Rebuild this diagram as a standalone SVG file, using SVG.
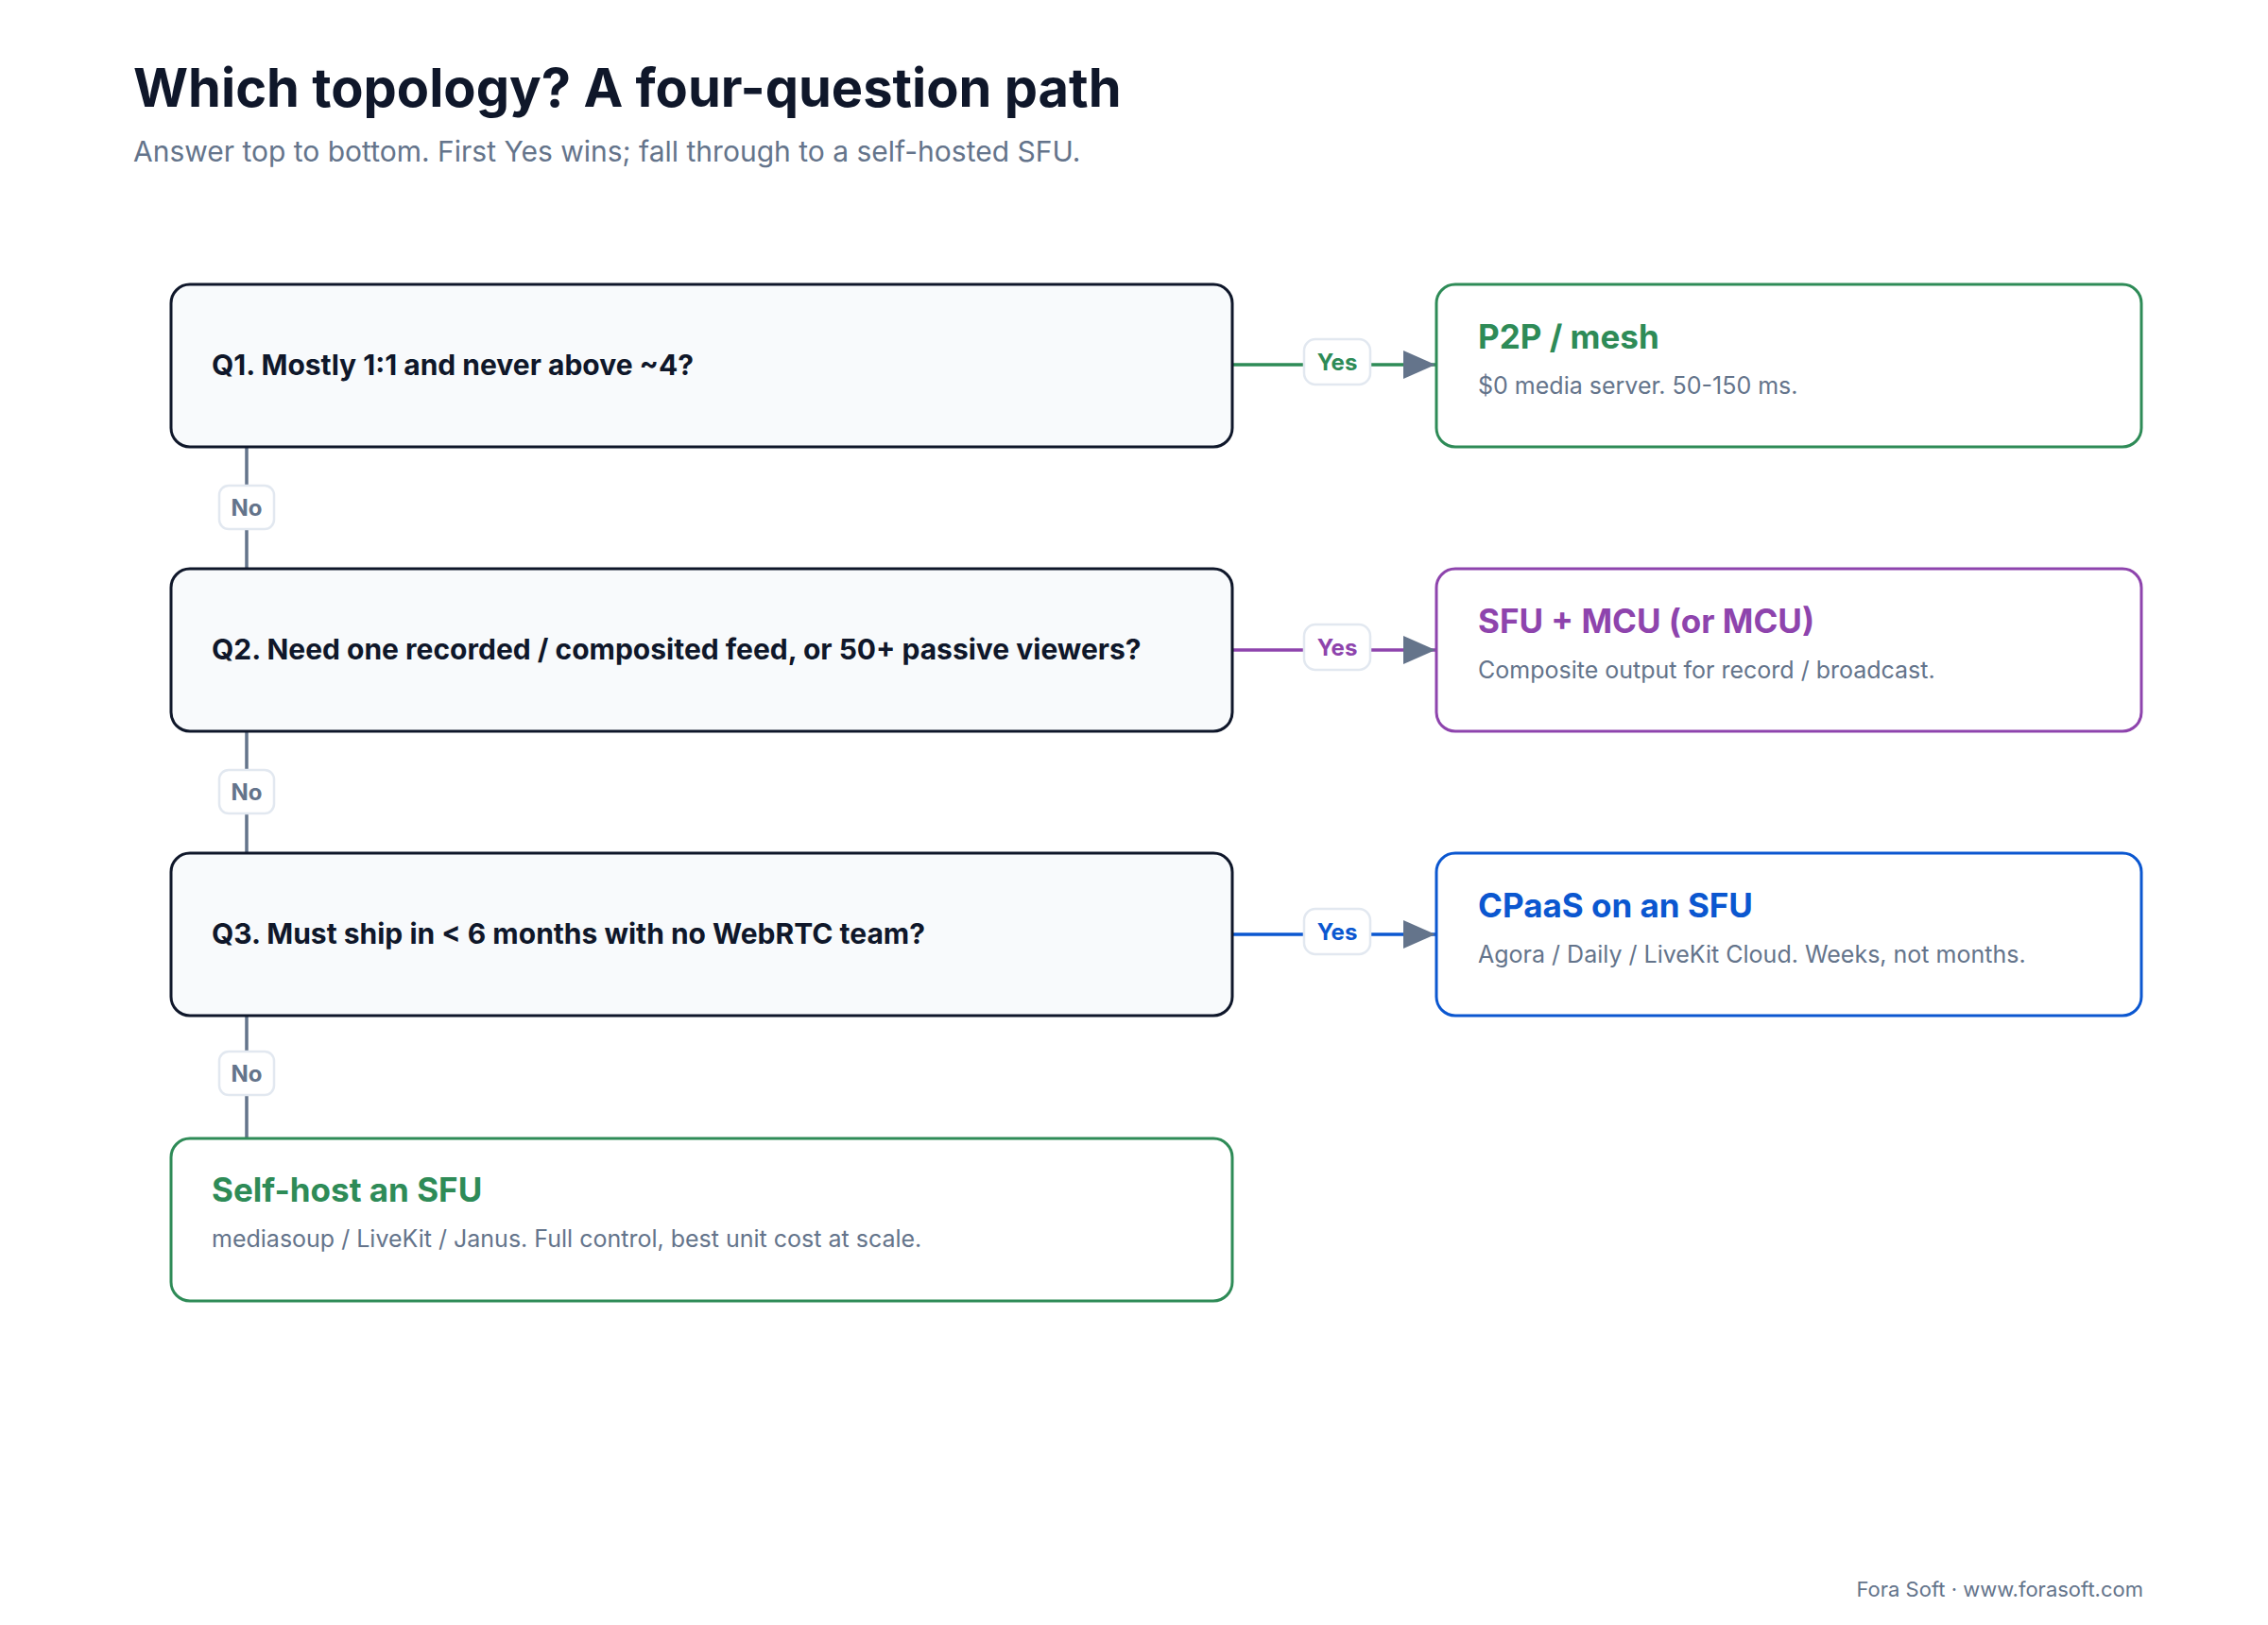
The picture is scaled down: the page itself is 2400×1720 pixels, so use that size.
<svg xmlns="http://www.w3.org/2000/svg" width="2400" height="1720" viewBox="0 0 2400 1720">
<style>
text{font-family:Inter,"Noto Sans","Liberation Sans",sans-serif}
.q{fill:#f8fafc;stroke:#0f172a;stroke-width:3}
.qt{font-size:30px;font-weight:700;fill:#0f172a}
.rt{font-size:35px;font-weight:700}
.rs{font-size:25px;fill:#64748b}
.lb{fill:#fff;stroke:#e2e8f0;stroke-width:2.5}
.lt{font-size:24px;font-weight:700;text-anchor:middle}
</style>
<defs><marker id="a" markerWidth="12" markerHeight="10" refX="12" refY="5" orient="auto" markerUnits="userSpaceOnUse" viewBox="0 0 12 10"><path d="M0,0L12,5L0,10z" fill="#64748b"/></marker>
<marker id="ah" viewBox="0 0 34 30" refX="34" refY="15" markerWidth="34" markerHeight="30" orient="auto" markerUnits="userSpaceOnUse"><path d="M0,0L34,15L0,30z" fill="#64748b"/></marker></defs>
<rect width="2400" height="1720" fill="#fff"/>
<text x="141" y="113" font-size="56" font-weight="700" fill="#0f172a">Which topology? A four-question path</text>
<text x="141" y="171" font-size="30" fill="#64748b">Answer top to bottom. First Yes wins; fall through to a self-hosted SFU.</text>
<g id="connectors" stroke-width="3.5" fill="none">
<path d="M261 473V602M261 774V903M261 1076V1205" stroke="#64748b"/>
<path d="M1300 386H1519" stroke="#2e8b57" marker-end="url(#ah)"/>
<path d="M1300 688H1519" stroke="#8e44ad" marker-end="url(#ah)"/>
<path d="M1300 989H1519" stroke="#0b57d0" marker-end="url(#ah)"/>
</g>
<g id="labels">
<rect class="lb" x="232" y="514" width="58" height="46" rx="10"/><text class="lt" x="261" y="546" fill="#64748b">No</text>
<rect class="lb" x="232" y="815" width="58" height="46" rx="10"/><text class="lt" x="261" y="847" fill="#64748b">No</text>
<rect class="lb" x="232" y="1113" width="58" height="46" rx="10"/><text class="lt" x="261" y="1145" fill="#64748b">No</text>
<rect class="lb" x="1380" y="359" width="70" height="48" rx="12"/><text class="lt" x="1415" y="392" fill="#2e8b57">Yes</text>
<rect class="lb" x="1380" y="661" width="70" height="48" rx="12"/><text class="lt" x="1415" y="694" fill="#8e44ad">Yes</text>
<rect class="lb" x="1380" y="962" width="70" height="48" rx="12"/><text class="lt" x="1415" y="995" fill="#0b57d0">Yes</text>
</g>
<g id="q1"><rect class="q" x="181" y="301" width="1123" height="172" rx="20"/><text class="qt" x="224" y="397">Q1. Mostly 1:1 and never above ~4?</text></g>
<g id="q2"><rect class="q" x="181" y="602" width="1123" height="172" rx="20"/><text class="qt" x="224" y="698">Q2. Need one recorded / composited feed, or 50+ passive viewers?</text></g>
<g id="q3"><rect class="q" x="181" y="903" width="1123" height="172" rx="20"/><text class="qt" x="224" y="999">Q3. Must ship in &lt; 6 months with no WebRTC team?</text></g>
<g id="selfhost"><rect x="181" y="1205" width="1123" height="172" rx="20" fill="#fff" stroke="#2e8b57" stroke-width="3"/><text class="rt" x="224" y="1272" fill="#2e8b57">Self-host an SFU</text><text class="rs" x="224" y="1320">mediasoup / LiveKit / Janus. Full control, best unit cost at scale.</text></g>
<g id="p2p"><rect x="1520" y="301" width="746" height="172" rx="20" fill="#fff" stroke="#2e8b57" stroke-width="3"/><text class="rt" x="1564" y="369" fill="#2e8b57">P2P / mesh</text><text class="rs" x="1564" y="417">$0 media server. 50-150 ms.</text></g>
<g id="mcu"><rect x="1520" y="602" width="746" height="172" rx="20" fill="#fff" stroke="#8e44ad" stroke-width="3"/><text class="rt" x="1564" y="670" fill="#8e44ad">SFU + MCU (or MCU)</text><text class="rs" x="1564" y="718">Composite output for record / broadcast.</text></g>
<g id="cpaas"><rect x="1520" y="903" width="746" height="172" rx="20" fill="#fff" stroke="#0b57d0" stroke-width="3"/><text class="rt" x="1564" y="971" fill="#0b57d0">CPaaS on an SFU</text><text class="rs" x="1564" y="1019">Agora / Daily / LiveKit Cloud. Weeks, not months.</text></g>
<text x="2268" y="1690" font-size="22" fill="#64748b" text-anchor="end">Fora Soft · www.forasoft.com</text>
</svg>
